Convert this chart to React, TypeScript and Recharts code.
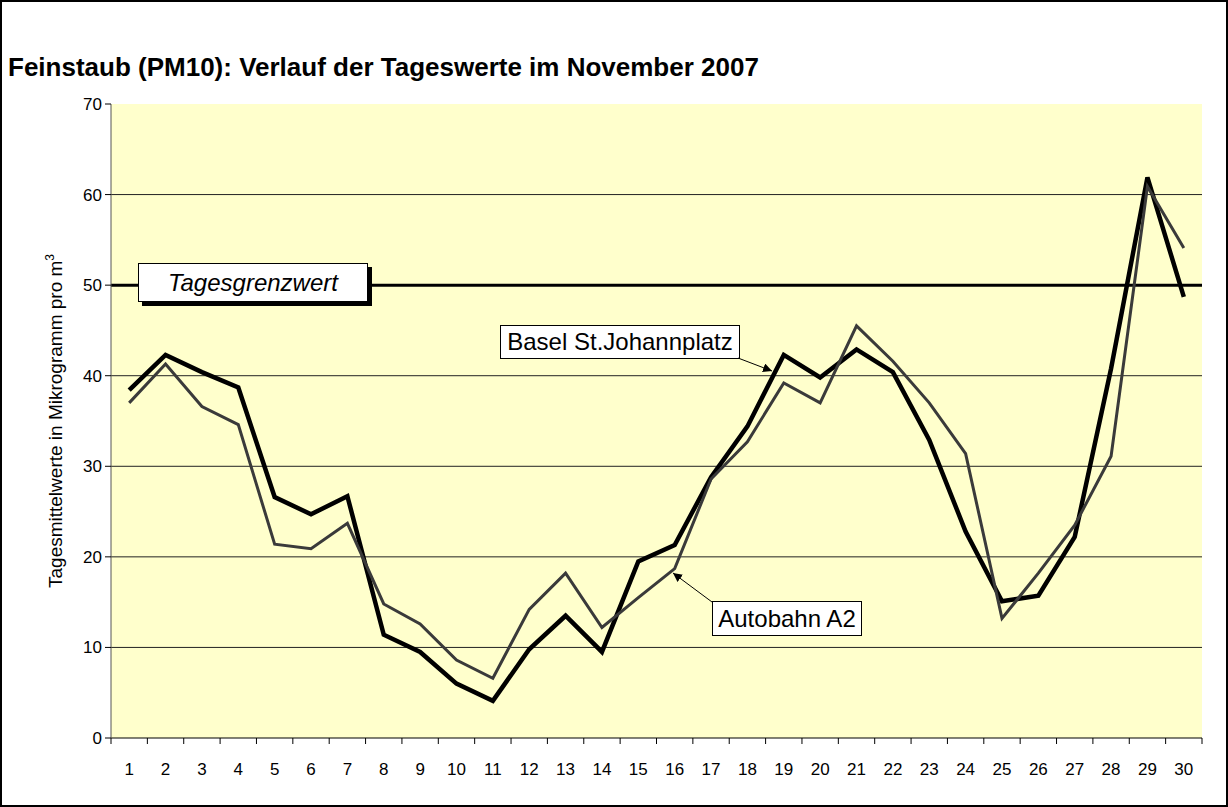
import { LineChart, Line, XAxis, YAxis, CartesianGrid, ReferenceLine } from 'recharts';

const days = [1, 2, 3, 4, 5, 6, 7, 8, 9, 10, 11, 12, 13, 14, 15, 16, 17, 18, 19, 20, 21, 22, 23, 24, 25, 26, 27, 28, 29, 30];
const basel = [38.4, 42.3, 40.4, 38.7, 26.6, 24.7, 26.7, 11.4, 9.5, 6.0, 4.1, 9.8, 13.5, 9.5, 19.5, 21.3, 28.8, 34.4, 42.3, 39.8, 42.9, 40.4, 32.9, 22.8, 15.1, 15.7, 22.2, 40.8, 61.9, 48.7];
const autobahn = [37.0, 41.3, 36.6, 34.6, 21.4, 20.9, 23.7, 14.8, 12.6, 8.6, 6.6, 14.2, 18.2, 12.2, 15.5, 18.7, 28.6, 32.7, 39.2, 37.0, 45.5, 41.6, 37.0, 31.4, 13.2, 18.2, 23.5, 31.1, 60.9, 54.1];
const yTicks = [0, 10, 20, 30, 40, 50, 60, 70];
const grenzwert = 50;

const data = days.map((d, i) => ({ day: d, basel: basel[i], autobahn: autobahn[i] }));
// tick lines sit between days, labels at the days
const xTicks = [...days.map(d => d - 0.5), 30.5, ...days].sort((a, b) => a - b);

const font = '"Liberation Sans", Arial, sans-serif';

function DayTick(props: any) {
  const { x, y, payload } = props;
  const v = payload.value;
  if (Number.isInteger(v)) {
    return (
      <text x={x} y={y + 37} textAnchor="middle" fontSize={17} fontFamily={font} fill="#000">
        {v}
      </text>
    );
  }
  return <line x1={x} y1={y} x2={x} y2={y + 6} stroke="#000" strokeWidth={1} />;
}

const boxStyle: React.CSSProperties = {
  position: 'absolute',
  background: '#fff',
  border: '1px solid #000',
  fontFamily: font,
  color: '#000',
  display: 'flex',
  alignItems: 'center',
  justifyContent: 'center',
  boxSizing: 'border-box',
  whiteSpace: 'nowrap',
};

export default function App() {
  return (
    <div style={{ position: 'absolute', left: 0, top: 0, width: 1228, height: 807, background: '#fff', overflow: 'hidden' }}>
      <LineChart width={1228} height={807} data={data} margin={{ top: 104, right: 26, bottom: 29, left: 31 }}>
        <CartesianGrid fill="#FFFFCC" vertical={false} stroke="#222" strokeOpacity={1} horizontalValues={[10, 20, 30, 40, 60]} />
        <XAxis
          dataKey="day"
          type="number"
          domain={[0.5, 30.5]}
          ticks={xTicks}
          interval={0}
          tickSize={0}
          tickMargin={0}
          tick={<DayTick />}
          height={40}
          stroke="#000"
        />
        <XAxis xAxisId="top" orientation="top" dataKey="day" type="number" domain={[0.5, 30.5]} tick={false} tickLine={false} height={0} stroke="#808080" />
        <YAxis
          domain={[0, 70]}
          ticks={yTicks}
          interval={0}
          width={80}
          tickSize={6}
          tickMargin={3}
          stroke="#555"
          tick={{ fill: '#000', fontSize: 17, fontFamily: font }}
          tickLine={{ stroke: '#000' }}
        />
        <YAxis yAxisId="right" orientation="right" domain={[0, 70]} tick={false} tickLine={false} width={0} stroke="#808080" />
        <ReferenceLine y={grenzwert} stroke="#000" strokeWidth={3} />
        <Line dataKey="basel" name="Basel St.Johannplatz" stroke="#000" strokeWidth={4.5} dot={false} isAnimationActive={false} strokeLinejoin="miter" />
        <Line dataKey="autobahn" name="Autobahn A2" stroke="#3a3a3a" strokeWidth={3} dot={false} isAnimationActive={false} strokeLinejoin="miter" />
      </LineChart>

      <div style={{ position: 'absolute', left: 8, top: 52, fontFamily: font, fontWeight: 'bold', fontSize: 26, color: '#000', whiteSpace: 'nowrap' }}>
        Feinstaub (PM10): Verlauf der Tageswerte im November 2007
      </div>

      <div
        style={{
          position: 'absolute',
          left: 55,
          top: 421,
          transform: 'translate(-50%, -50%) rotate(-90deg)',
          fontFamily: font,
          fontSize: 19,
          color: '#000',
          whiteSpace: 'nowrap',
        }}
      >
        Tagesmittelwerte in Mikrogramm pro m<sup style={{ fontSize: 12 }}>3</sup>
      </div>

      <div style={{ ...boxStyle, left: 138, top: 263, width: 230, height: 39, fontSize: 24, fontStyle: 'italic', boxShadow: '4px 4px 0 #000' }}>
        Tagesgrenzwert
      </div>
      <div style={{ ...boxStyle, left: 500, top: 325, width: 240, height: 34, fontSize: 24 }}>Basel St.Johannplatz</div>
      <div style={{ ...boxStyle, left: 712, top: 601, width: 150, height: 35, fontSize: 24 }}>Autobahn A2</div>

      <svg width={1228} height={807} style={{ position: 'absolute', left: 0, top: 0, pointerEvents: 'none' }}>
        <defs>
          <marker id="ah" viewBox="0 0 10 10" refX="10" refY="5" markerWidth="9" markerHeight="9" orient="auto-start-reverse" markerUnits="userSpaceOnUse">
            <path d="M0,0 L10,5 L0,10 z" fill="#000" />
          </marker>
        </defs>
        <line x1={738} y1={358} x2={772} y2={371} stroke="#000" strokeWidth={1} markerEnd="url(#ah)" />
        <line x1={712} y1={602} x2={673} y2={573} stroke="#000" strokeWidth={1} markerEnd="url(#ah)" />
      </svg>

      <div style={{ position: 'absolute', left: 0, top: 0, width: 1228, height: 807, border: '2px solid #000', boxSizing: 'border-box', pointerEvents: 'none' }} />
    </div>
  );
}
